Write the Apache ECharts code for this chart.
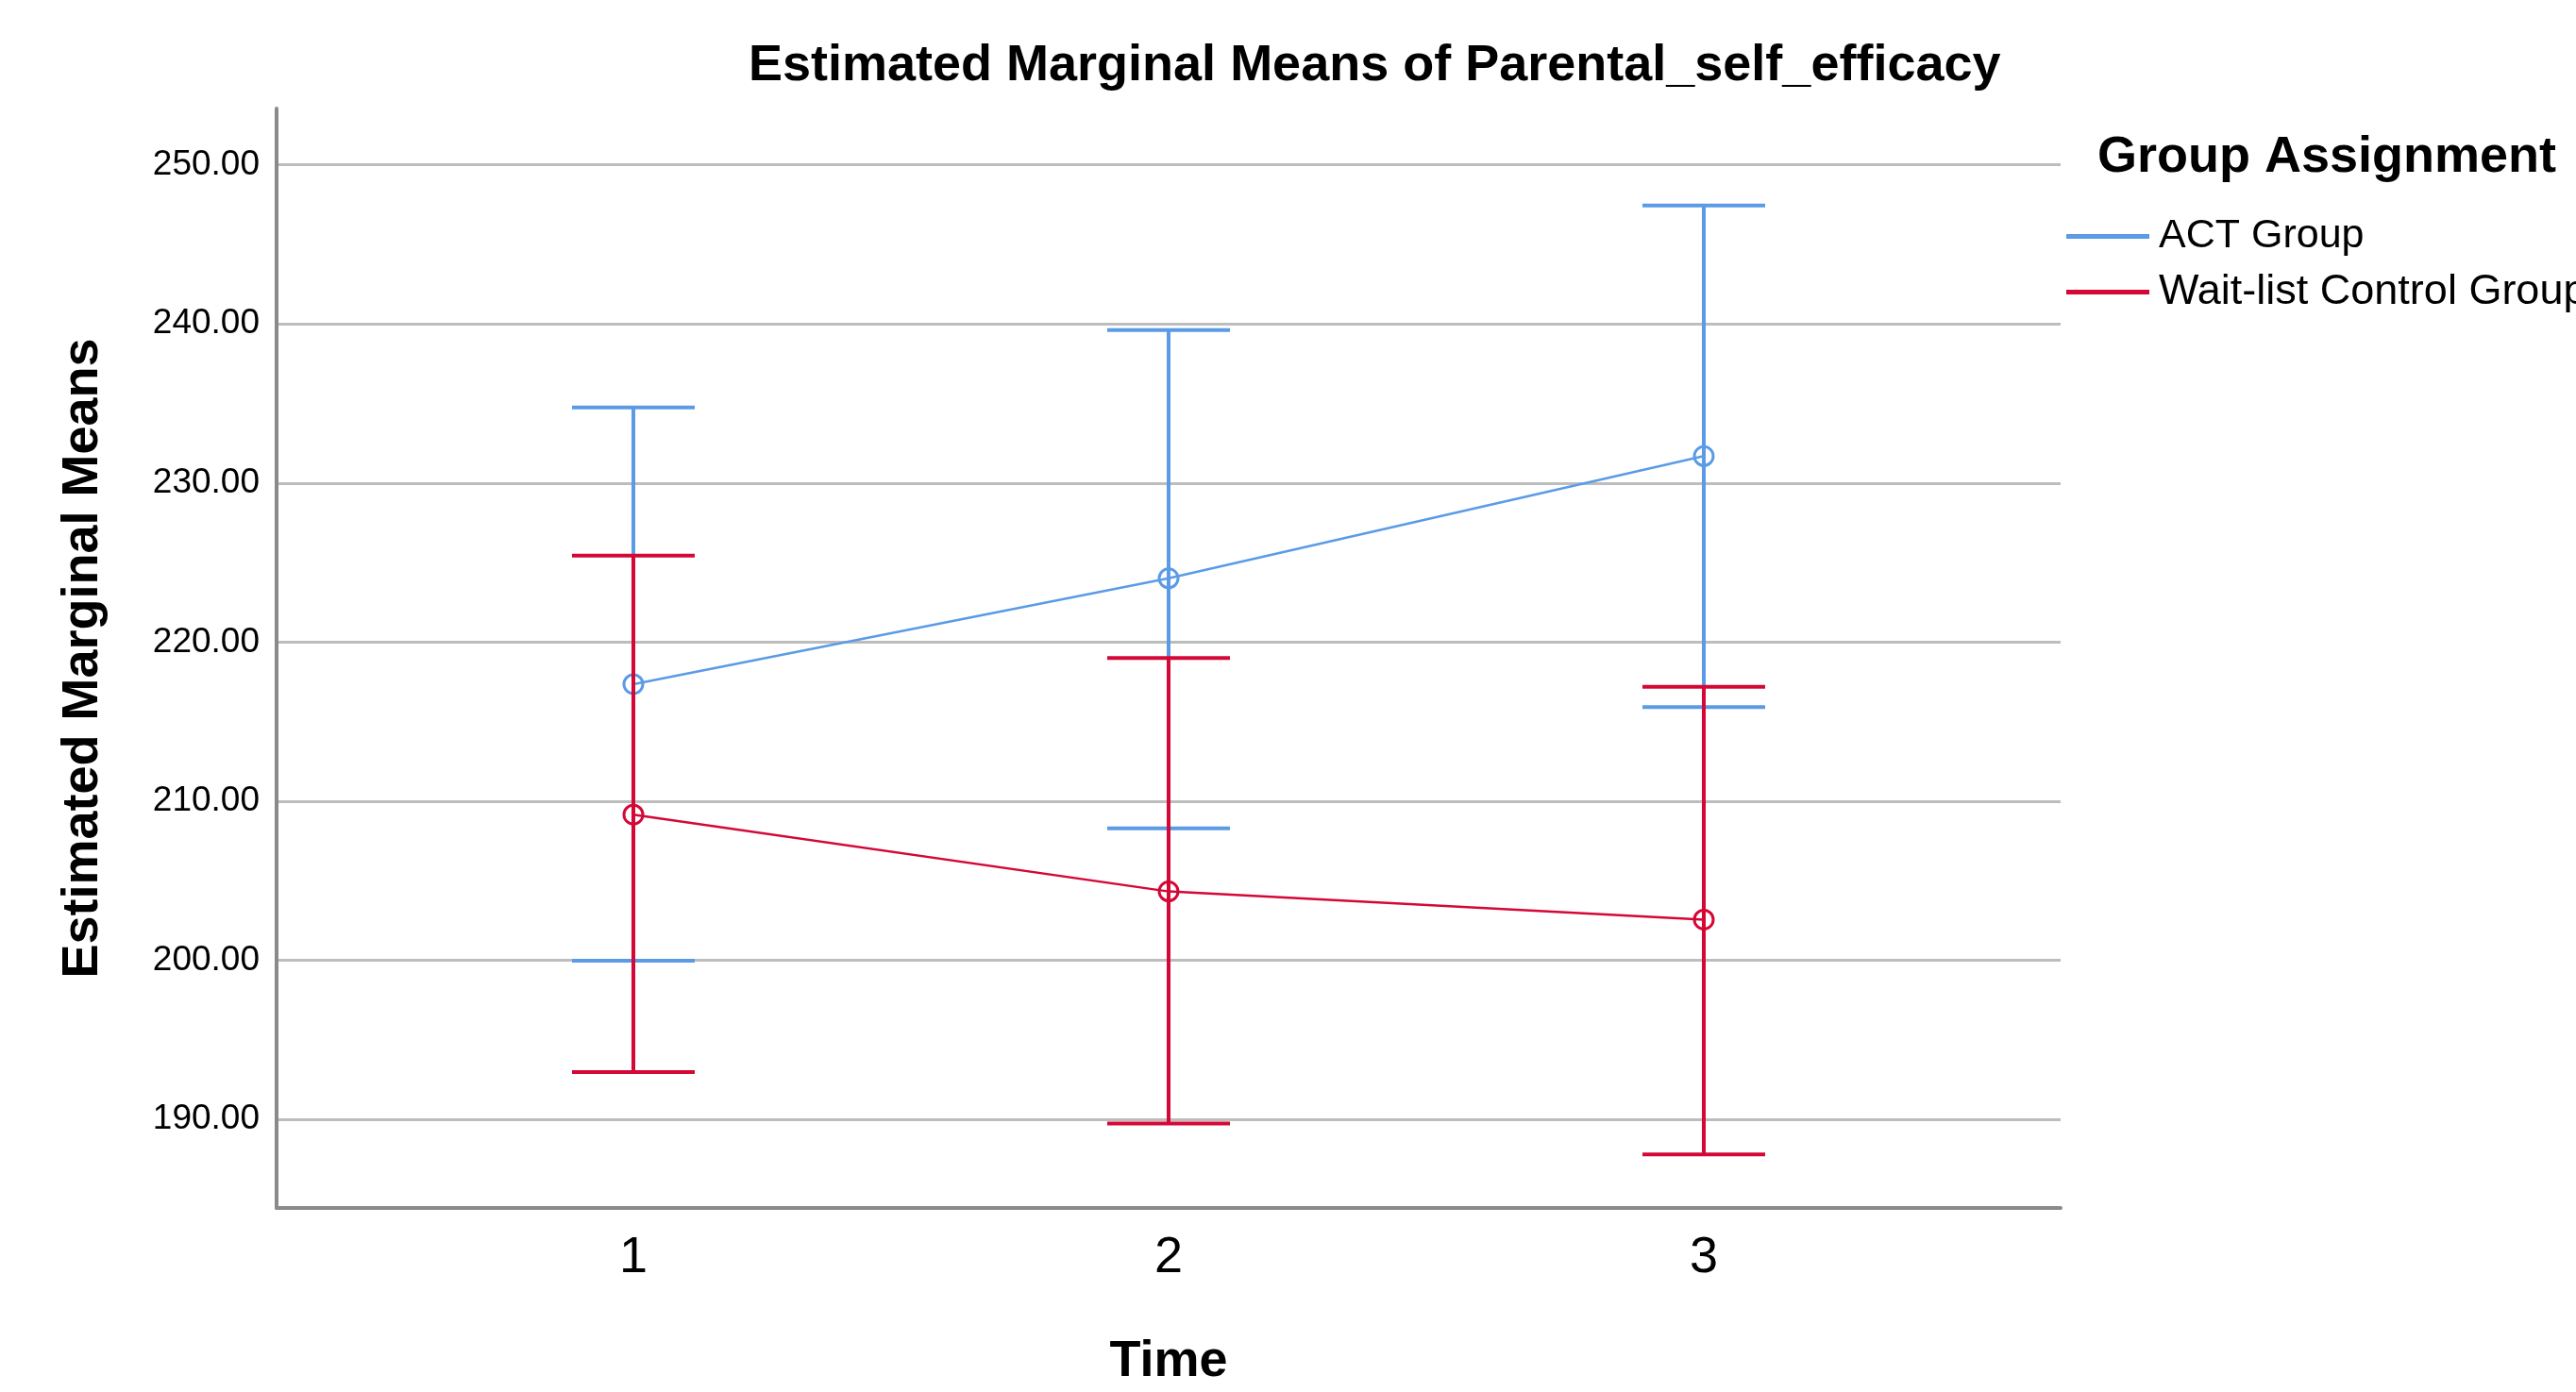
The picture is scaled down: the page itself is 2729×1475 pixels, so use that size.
<!DOCTYPE html>
<html>
<head>
<meta charset="utf-8">
<script src="https://cdn.jsdelivr.net/npm/echarts@6/dist/echarts.min.js"></script>
<style>html,body{margin:0;padding:0;background:#fff;overflow:hidden}#c{width:100vw;height:100vh}</style>
</head>
<body>
<div id="c"></div>
<script>
// ---- data ----
const times = [1, 2, 3];
const timeLabels = ['1', '2', '3'];
const yTicks = [190, 200, 210, 220, 230, 240, 250];
const seriesNames = ['ACT Group', 'Wait-list Control Group'];
const actMean = [217.36, 224.01, 231.69];
const actLower = [199.98, 208.29, 215.91];
const actUpper = [234.74, 239.61, 247.44];
const waitMean = [209.16, 204.33, 202.56];
const waitLower = [192.98, 189.75, 187.81];
const waitUpper = [225.44, 219.00, 217.19];

const BLUE = '#5b9be6';
const RED = '#d40836';
const FONT = "'Liberation Sans', Arial, sans-serif";

function pts(means) { return times.map((t, i) => [t, means[i]]); }
function ci(lo, hi) { return times.map((t, i) => [t, lo[i], hi[i]]); }

function errRender(color) {
  return function (params, api) {
    const x = api.value(0);
    const pLo = api.coord([x, api.value(1)]);
    const pHi = api.coord([x, api.value(2)]);
    const hw = 65;
    const st = { stroke: color, lineWidth: 4 };
    return {
      type: 'group',
      children: [
        { type: 'line', shape: { x1: pLo[0], y1: pLo[1], x2: pHi[0], y2: pHi[1] }, style: st },
        { type: 'line', shape: { x1: pHi[0] - hw, y1: pHi[1], x2: pHi[0] + hw, y2: pHi[1] }, style: st },
        { type: 'line', shape: { x1: pLo[0] - hw, y1: pLo[1], x2: pLo[0] + hw, y2: pLo[1] }, style: st }
      ]
    };
  };
}

const chart = echarts.init(document.getElementById('c'), null, { renderer: 'canvas' });
chart.setOption({
  backgroundColor: '#ffffff',
  animation: false,
  textStyle: { fontFamily: FONT },
  title: [
    {
      text: 'Estimated Marginal Means of Parental_self_efficacy',
      left: 793, top: 43, padding: 0,
      textStyle: { fontSize: 54, fontWeight: 'bold', color: '#000', fontFamily: FONT, lineHeight: 54 }
    },
    {
      text: 'Group Assignment',
      left: 2222, top: 140, padding: 0,
      textStyle: { fontSize: 54, fontWeight: 'bold', color: '#000', fontFamily: FONT, lineHeight: 54 }
    }
  ],
  legend: {
    orient: 'vertical',
    left: 2189, top: 229, padding: 0,
    itemWidth: 86, itemHeight: 3, itemGap: 15,
    icon: 'rect',
    data: [
      { name: seriesNames[0], itemStyle: { color: BLUE } },
      { name: seriesNames[1], itemStyle: { color: RED }, textStyle: { fontSize: 45, lineHeight: 43 } }
    ],
    textStyle: { fontSize: 43, color: '#000', fontFamily: FONT, lineHeight: 43, padding: [0, 0, 0, 6] }
  },
  grid: { left: 293, right: 546, top: 115, bottom: 186, containLabel: false },
  xAxis: {
    type: 'value',
    min: 1 / 3, max: 11 / 3,
    name: 'Time', nameLocation: 'middle', nameGap: 136,
    nameTextStyle: { fontSize: 54, fontWeight: 'bold', color: '#000', fontFamily: FONT, lineHeight: 54 },
    axisLine: { show: true, onZero: false, lineStyle: { color: '#8a8a8a', width: 4 } },
    axisTick: { show: false, customValues: times },
    axisLabel: {
      customValues: times, margin: 26, fontSize: 54, color: '#000', fontFamily: FONT, lineHeight: 54,
      formatter: v => timeLabels[times.indexOf(Math.round(v))] || ''
    },
    splitLine: { show: false }
  },
  yAxis: {
    type: 'value',
    min: 184.44, max: 253.53,
    name: 'Estimated Marginal Means', nameLocation: 'middle', nameGap: 178, nameRotate: 90,
    nameTextStyle: { fontSize: 54, fontWeight: 'bold', color: '#000', fontFamily: FONT, lineHeight: 54 },
    axisLine: { show: true, onZero: false, lineStyle: { color: '#8a8a8a', width: 4 } },
    axisTick: { show: false, customValues: yTicks },
    axisLabel: {
      customValues: yTicks, margin: 18, fontSize: 37, color: '#000', fontFamily: FONT,
      formatter: v => Number(v).toFixed(2)
    },
    splitLine: { show: true, lineStyle: { color: '#bdbdbd', width: 3 } }
  },
  series: [
    {
      name: 'ACT Group CI', type: 'custom', renderItem: errRender(BLUE),
      encode: { x: 0, y: [1, 2] }, data: ci(actLower, actUpper), z: 2
    },
    {
      name: seriesNames[0], type: 'line', data: pts(actMean),
      symbol: 'circle', symbolSize: 20,
      lineStyle: { color: BLUE, width: 2.5 },
      itemStyle: { color: 'rgba(0,0,0,0)', borderColor: BLUE, borderWidth: 3 }, z: 3
    },
    {
      name: 'Wait-list CI', type: 'custom', renderItem: errRender(RED),
      encode: { x: 0, y: [1, 2] }, data: ci(waitLower, waitUpper), z: 4
    },
    {
      name: seriesNames[1], type: 'line', data: pts(waitMean),
      symbol: 'circle', symbolSize: 20,
      lineStyle: { color: RED, width: 2.5 },
      itemStyle: { color: 'rgba(0,0,0,0)', borderColor: RED, borderWidth: 3 }, z: 5
    }
  ]
});
window.addEventListener('resize', () => chart.resize());
</script>
</body>
</html>
